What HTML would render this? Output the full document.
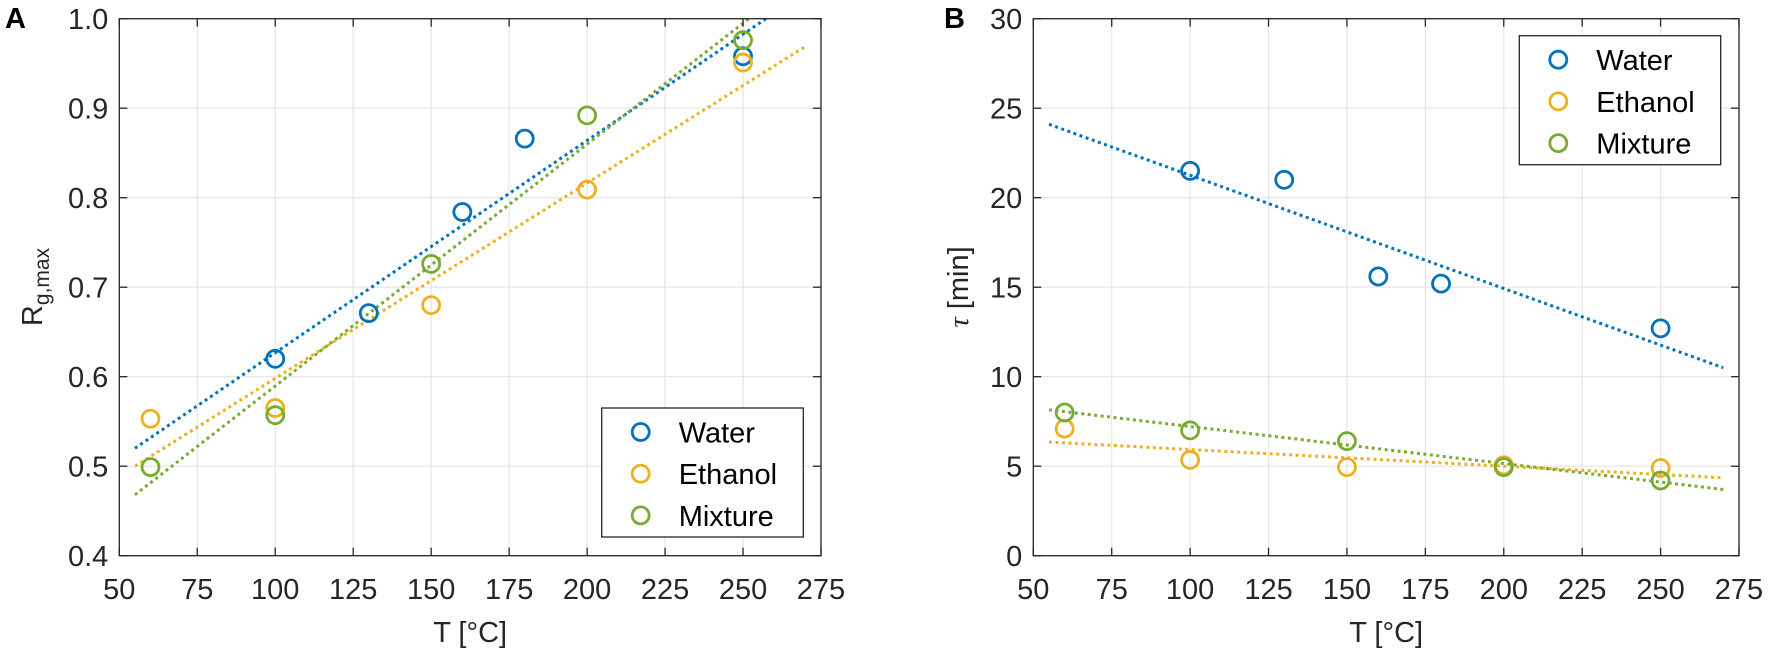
<!DOCTYPE html>
<html><head><meta charset="utf-8">
<style>
html,body{margin:0;padding:0;background:#fff;}
svg{display:block;font-family:"Liberation Sans",Arial,sans-serif;}
</style></head>
<body>
<svg id="chart" width="1772" height="655" viewBox="0 0 1772 655" xmlns="http://www.w3.org/2000/svg">
<text x="5" y="28" font-size="29" font-weight="bold" fill="#000">A</text>
<text x="944" y="28" font-size="29" font-weight="bold" fill="#000">B</text>
<g id="panelA"></g>
<g id="panelB"></g>
</svg>
<script>
// ---- data ----
const seriesNames = ["Water", "Ethanol", "Mixture"];
const seriesColors = ["#0072BD", "#EDB120", "#77AC30"];
const xTicks = [50, 75, 100, 125, 150, 175, 200, 225, 250, 275];
const yTicksA = [0.4, 0.5, 0.6, 0.7, 0.8, 0.9, 1.0];
const yTickLabelsA = ["0.4", "0.5", "0.6", "0.7", "0.8", "0.9", "1.0"];
const yTicksB = [0, 5, 10, 15, 20, 25, 30];
const yTickLabelsB = ["0", "5", "10", "15", "20", "25", "30"];

const waterT_A = [100, 130, 160, 180, 250];
const waterR = [0.620, 0.671, 0.784, 0.866, 0.958];
const ethanolT_A = [60, 100, 150, 200, 250];
const ethanolR = [0.553, 0.565, 0.680, 0.809, 0.951];
const mixtureT_A = [60, 100, 150, 200, 250];
const mixtureR = [0.499, 0.557, 0.726, 0.892, 0.976];
// fit lines: [T0, v0, T1, v1]
const fitWaterA = [55, 0.520, 270, 1.030];
const fitEthanolA = [55, 0.500, 270, 0.969];
const fitMixtureA = [55, 0.468, 270, 1.049];

const waterT_B = [100, 130, 160, 180, 250];
const waterTau = [21.5, 21.0, 15.6, 15.2, 12.7];
const ethanolT_B = [60, 100, 150, 200, 250];
const ethanolTau = [7.1, 5.35, 4.95, 5.05, 4.9];
const mixtureT_B = [60, 100, 150, 200, 250];
const mixtureTau = [8.0, 7.0, 6.4, 4.95, 4.2];
const fitWaterB = [55, 24.1, 270, 10.5];
const fitEthanolB = [55, 6.35, 270, 4.35];
const fitMixtureB = [55, 8.15, 270, 3.7];

const NS = "http://www.w3.org/2000/svg";
function mk(tag, attrs, parent){
  const e = document.createElementNS(NS, tag);
  for (const k in attrs) e.setAttribute(k, attrs[k]);
  parent.appendChild(e); return e;
}

function drawPanel(g, cfg){
  const L = cfg.left, R = cfg.right, T = 18.7, B = 555.7;
  const xs = v => L + (v - 50) / 225 * (R - L);
  const ys = v => B - (v - cfg.ymin) / (cfg.ymax - cfg.ymin) * (B - T);
  const clipId = "clip" + cfg.id;
  const defs = mk("defs", {}, g);
  const cp = mk("clipPath", {id: clipId}, defs);
  mk("rect", {x: L, y: T, width: R - L, height: B - T}, cp);
  // grid
  xTicks.forEach(t => {
    const l = mk("line", {x1: xs(t), x2: xs(t), y1: T, y2: B, stroke: "#e5e5e5", "stroke-width": 1.2}, g);
    
    
  });
  cfg.yticks.forEach(t => {
    const l = mk("line", {x1: L, x2: R, y1: ys(t), y2: ys(t), stroke: "#e5e5e5", "stroke-width": 1.2}, g);
    
    
  });
  // fits
  const plot = mk("g", {"clip-path": "url(#" + clipId + ")"}, g);
  cfg.fits.forEach((f, i) => {
    const l = mk("line", {x1: xs(f[0]), y1: ys(f[1]), x2: xs(f[2]), y2: ys(f[3]), stroke: seriesColors[i], "stroke-width": 3, "stroke-dasharray": "3 3.5"}, plot);
    
    
  });
  // markers
  cfg.series.forEach((s, i) => {
    s[0].forEach((tv, j) => {
      const c = mk("circle", {cx: xs(tv), cy: ys(s[1][j]), r: 8.5, fill: "none", stroke: seriesColors[i], "stroke-width": 2.8}, g);
      
      
    });
  });
  // axes box
  const box = mk("rect", {x: L, y: T, width: R - L, height: B - T, fill: "none", stroke: "#262626", "stroke-width": 1.3}, g);
  
  
  // ticks and labels
  xTicks.forEach(t => {
    mk("line", {x1: xs(t), x2: xs(t), y1: B, y2: B - 8, stroke: "#262626", "stroke-width": 1.3}, g);
    mk("line", {x1: xs(t), x2: xs(t), y1: T, y2: T + 8, stroke: "#262626", "stroke-width": 1.3}, g);
    const tx = mk("text", {x: xs(t), y: 599, "font-size": 29, fill: "#262626", "text-anchor": "middle"}, g);
    tx.textContent = t;
    
    
  });
  cfg.yticks.forEach((t, i) => {
    mk("line", {x1: L, x2: L + 8, y1: ys(t), y2: ys(t), stroke: "#262626", "stroke-width": 1.3}, g);
    mk("line", {x1: R, x2: R - 8, y1: ys(t), y2: ys(t), stroke: "#262626", "stroke-width": 1.3}, g);
    const tx = mk("text", {x: L - 11, y: ys(t) + 10.5, "font-size": 29, fill: "#262626", "text-anchor": "end"}, g);
    tx.textContent = cfg.ylabels[i];
    
    
  });
  const xt = mk("text", {x: (L + R) / 2, y: 642, "font-size": 29, fill: "#262626", "text-anchor": "middle"}, g);
  xt.textContent = "T [°C]";
  
  
  // legend
  const lg = cfg.legend;
  const lgG = mk("g", {}, g);
  
  
  mk("rect", {x: lg.x, y: lg.y, width: lg.w, height: lg.h, fill: "#fff", stroke: "#262626", "stroke-width": 1.3}, lgG);
  seriesNames.forEach((n, i) => {
    const cy = lg.y + 24 + i * 41.7;
    const c = mk("circle", {cx: lg.x + 39, cy: cy, r: 8.5, fill: "none", stroke: seriesColors[i], "stroke-width": 2.8}, lgG);
    
    
    const t = mk("text", {x: lg.x + 77, y: cy + 10.5, "font-size": 29, fill: "#000"}, lgG);
    t.textContent = n;
    
    
  });
}

drawPanel(document.getElementById("panelA"), {
  id: "A", left: 119.3, right: 821, ymin: 0.4, ymax: 1.0,
  yticks: yTicksA, ylabels: yTickLabelsA,
  fits: [fitWaterA, fitEthanolA, fitMixtureA],
  series: [[waterT_A, waterR], [ethanolT_A, ethanolR], [mixtureT_A, mixtureR]],
  legend: {x: 601.7, y: 408, w: 201.6, h: 129}
});
drawPanel(document.getElementById("panelB"), {
  id: "B", left: 1033.3, right: 1739, ymin: 0, ymax: 30,
  yticks: yTicksB, ylabels: yTickLabelsB,
  fits: [fitWaterB, fitEthanolB, fitMixtureB],
  series: [[waterT_B, waterTau], [ethanolT_B, ethanolTau], [mixtureT_B, mixtureTau]],
  legend: {x: 1519.3, y: 35.7, w: 201.4, h: 129}
});

// y-axis titles
const svg = document.getElementById("chart");
const ya = mk("text", {x: 0, y: 0, "font-size": 29, fill: "#262626", "text-anchor": "middle", transform: "translate(42,287) rotate(-90)"}, svg);
ya.innerHTML = 'R<tspan font-size="21" dy="7">g,max</tspan>';


const yb = mk("text", {x: 0, y: 0, "font-size": 29, fill: "#262626", "text-anchor": "middle", transform: "translate(968,287) rotate(-90)"}, svg);
yb.innerHTML = '<tspan font-family="Liberation Serif" font-style="italic">τ</tspan> [min]';


</script>
</body></html>
